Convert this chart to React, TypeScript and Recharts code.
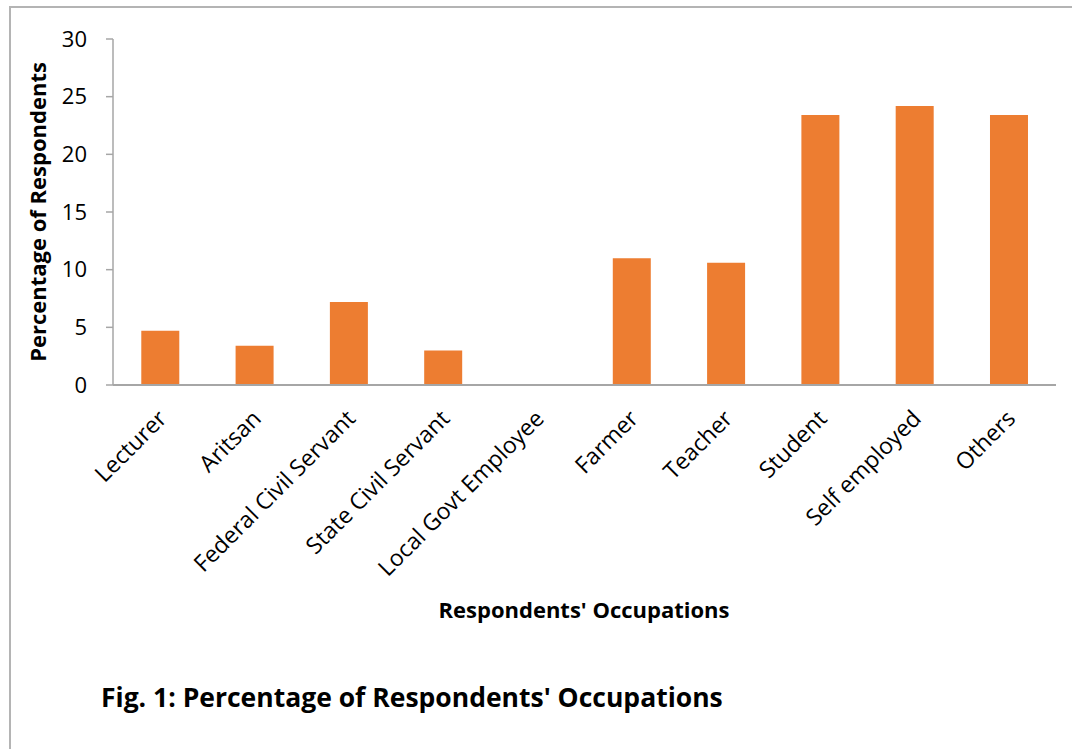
import React from "react";
import { BarChart, Bar, XAxis, YAxis } from "recharts";

const categories = [
  "Lecturer",
  "Aritsan",
  "Federal Civil Servant",
  "State Civil Servant",
  "Local Govt Employee",
  "Farmer",
  "Teacher",
  "Student",
  "Self employed",
  "Others",
];
const percentages = [4.7, 3.4, 7.2, 3.0, 0, 11.0, 10.6, 23.4, 24.2, 23.4];
const yTicks = [0, 5, 10, 15, 20, 25, 30];

const data = categories.map((name, i) => ({ name, value: percentages[i] }));

const FONT = "'Open Sans', 'Noto Sans', sans-serif";

const XTick = (props: any) => {
  const { x, y, payload } = props;
  return (
    <g transform={`translate(${x + 8},${y + 27})`}>
      <text
        x={0}
        y={0}
        transform="rotate(-45)"
        textAnchor="end"
        fontFamily={FONT}
        fontSize={23}
        fill="#000"
      >
        {payload.value}
      </text>
    </g>
  );
};

export default function App() {
  return (
    <div
      style={{
        position: "absolute",
        left: 0,
        top: 0,
        width: 1076,
        height: 749,
        background: "#fff",
        fontFamily: FONT,
      }}
    >
      <div style={{ position: "absolute", left: 10, top: 6, width: 1062, height: 2, background: "#b4b4b4" }} />
      <div style={{ position: "absolute", left: 9, top: 6, width: 2, height: 743, background: "#b4b4b4" }} />
      <div style={{ position: "absolute", left: 0, top: 0 }}>
        <BarChart
          width={1076}
          height={749}
          data={data}
          margin={{ top: 39, right: 20, left: 53, bottom: 214 }}
          barCategoryGap="30%"
        >
          <XAxis
            dataKey="name"
            interval={0}
            tickLine={false}
            axisLine={{ stroke: "#a6a6a6", strokeWidth: 2 }}
            tick={<XTick />}
            height={150}
          />
          <YAxis
            domain={[0, 30]}
            ticks={yTicks}
            width={60}
            tickSize={7}
            tickLine={{ stroke: "#a6a6a6", strokeWidth: 1.5 }}
            axisLine={{ stroke: "#a6a6a6", strokeWidth: 1.5 }}
            tick={{ fill: "#000", fontSize: 22, fontFamily: FONT }}
            tickMargin={19}
          />
          <Bar dataKey="value" fill="#ED7D31" isAnimationActive={false} />
        </BarChart>
      </div>
      <div
        style={{
          position: "absolute",
          left: 37,
          top: 212,
          transform: "translate(-50%, -50%) rotate(-90deg)",
          whiteSpace: "nowrap",
          fontWeight: 700,
          fontSize: 22,
          color: "#000",
        }}
      >
        Percentage of Respondents
      </div>
      <div
        style={{
          position: "absolute",
          left: 584,
          top: 609,
          transform: "translate(-50%, -50%)",
          whiteSpace: "nowrap",
          fontWeight: 700,
          fontSize: 22,
          color: "#000",
        }}
      >
        Respondents' Occupations
      </div>
      <div
        style={{
          position: "absolute",
          left: 101,
          top: 697,
          transform: "translateY(-50%)",
          whiteSpace: "nowrap",
          fontWeight: 700,
          fontSize: 26.5,
          color: "#000",
        }}
      >
        Fig. 1: Percentage of Respondents' Occupations
      </div>
    </div>
  );
}
